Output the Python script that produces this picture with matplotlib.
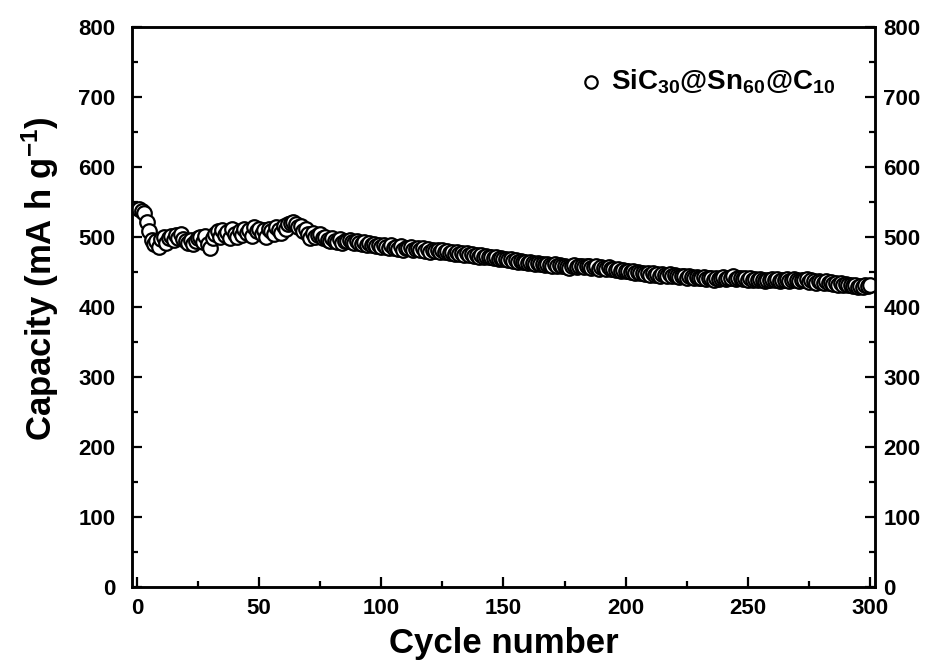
import matplotlib.pyplot as plt
from matplotlib.ticker import MultipleLocator
import numpy as np

LABEL = r"SiC$_{30}$@Sn$_{60}$@C$_{10}$"

cycles = np.arange(1, 301)

# discharge capacity per cycle (mA h g-1)
capacity = [
    540, 537, 534, 522, 508, 496, 490, 494, 486, 497,
    500, 492, 498, 502, 496, 503, 499, 505, 497, 494,
    492, 496, 490, 494, 498, 500, 493, 502, 490, 485,
    498, 505, 508, 500, 510, 503, 507, 498, 511, 505,
    500, 508, 503, 512, 506, 510, 502, 514, 508, 512,
    505, 510, 500, 512, 508, 504, 514, 510, 506, 516,
    512, 518, 520, 522, 518, 514, 516, 508, 512, 504,
    498, 506, 500, 503, 505, 498, 500, 496, 494, 498,
    495, 493, 497, 492, 495, 494, 496, 493, 491, 494,
    492, 490, 493, 489, 491, 488, 490, 487, 489, 486,
    488, 486, 485, 488, 484, 486, 483, 487, 482, 485,
    484, 486, 482, 483, 485, 481, 484, 480, 483, 479,
    482, 480, 481, 478, 482, 479, 480, 477, 479, 476,
    478, 476, 477, 475, 477, 474, 476, 473, 475, 472,
    474, 472, 473, 471, 472, 470, 471, 469, 470, 468,
    469, 467, 468, 466, 467, 465, 466, 464, 465, 463,
    464, 463, 462, 463, 461, 462, 460, 461, 460, 459,
    461, 459, 460, 458, 459, 457, 456, 458, 460, 457,
    459, 458, 457, 459, 458, 456, 457, 458, 455, 457,
    456, 455, 457, 454, 455, 453, 454, 452, 453, 451,
    452, 450, 451, 449, 450, 448, 449, 447, 448, 446,
    448, 446, 447, 445, 447, 446, 445, 447, 444, 446,
    445, 443, 445, 444, 442, 444, 443, 441, 443, 442,
    441, 443, 440, 442, 441, 439, 442, 440, 441, 443,
    440, 442, 441, 444, 440, 442, 441, 440, 442, 439,
    441, 439, 440, 438, 440, 439, 437, 439, 438, 440,
    438, 440, 437, 439, 438, 440, 437, 438, 440, 439,
    437, 439, 438, 440, 436, 438, 437, 435, 437, 436,
    435, 437, 434, 436, 433, 435, 432, 434, 431, 433,
    431, 432, 430, 431, 429, 430, 429, 431, 430, 431,
]

plt.rcParams["font.family"] = ["Liberation Sans", "DejaVu Sans"]
plt.rcParams["font.weight"] = "bold"
plt.rcParams["mathtext.fontset"] = "custom"
plt.rcParams["mathtext.rm"] = "Liberation Sans:bold"
plt.rcParams["mathtext.it"] = "Liberation Sans:bold"
plt.rcParams["mathtext.default"] = "rm"

fig = plt.figure(figsize=(9.31, 6.61), dpi=100)
ax = fig.add_axes([0.1418, 0.112, 0.798, 0.847])
ax2 = ax.twinx()

ax.scatter(cycles, capacity, s=110, facecolors="white", edgecolors="black",
           linewidths=1.6, label=LABEL, zorder=3)

ax.set_xlim(-2, 302)
for a in (ax, ax2):
    a.set_ylim(0, 800)
    a.yaxis.set_major_locator(MultipleLocator(100))
    a.yaxis.set_minor_locator(MultipleLocator(50))
ax.xaxis.set_major_locator(MultipleLocator(50))
ax.xaxis.set_minor_locator(MultipleLocator(25))

ax.tick_params(which="both", direction="in", top=False, right=False,
               width=1.6, labelsize=16)
ax.tick_params(axis="y", which="major", pad=12)
ax.tick_params(axis="x", which="major", pad=8)
ax2.tick_params(which="both", direction="in", width=1.6, labelsize=16, pad=6)
for a in (ax, ax2):
    a.tick_params(which="major", length=7)
    a.tick_params(which="minor", length=4)
    for lbl in a.get_xticklabels() + a.get_yticklabels():
        lbl.set_fontweight("bold")
for s in ax.spines.values():
    s.set_linewidth(1.8)
for s in ax2.spines.values():
    s.set_linewidth(1.8)

ax.set_xlabel("Cycle number", fontsize=25, fontweight="bold", labelpad=6)
ax.set_ylabel(r"Capacity (mA h g$^{-1}$)", fontsize=25, fontweight="bold")
ax.yaxis.set_label_coords(-0.095, 0.55)

leg = ax.legend(loc="upper right", bbox_to_anchor=(0.98, 0.972), frameon=False,
                handletextpad=0.1, handlelength=1.2, markerscale=0.85,
                prop={"weight": "bold", "size": 20})

fig.savefig("out.png", dpi=100)
